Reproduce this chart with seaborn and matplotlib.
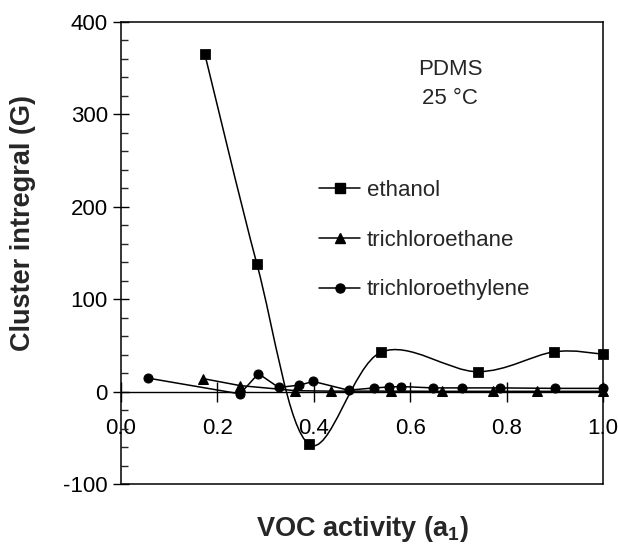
import numpy as np
import pandas as pd
import matplotlib
matplotlib.use("Agg")
import matplotlib.pyplot as plt
import seaborn as sns
from matplotlib.path import Path
from matplotlib.patches import PathPatch
from matplotlib.lines import Line2D
from matplotlib.ticker import MultipleLocator, FixedLocator, FixedFormatter

# ---------------- data ----------------
series_names = ["ethanol", "trichloroethane", "trichloroethylene"]

ethanol_a = [0.174, 0.282, 0.390, 0.539, 0.740, 0.898, 1.0]
ethanol_G = [365, 138, -57, 42.5, 21.5, 43, 40.5]

tcethane_a = [0.171, 0.247, 0.362, 0.435, 0.561, 0.665, 0.772, 0.863, 1.0]
tcethane_G = [14, 6.5, 1, 0.5, 0.5, 0.3, 0.3, 0.3, 0.3]

tcethylene_a = [0.057, 0.247, 0.285, 0.327, 0.370, 0.399, 0.472, 0.525,
                0.557, 0.580, 0.647, 0.708, 0.786, 0.900, 1.0]
tcethylene_G = [14.5, -2.5, 19.5, 4.5, 7, 11, 1.5, 4, 5, 5.5, 4, 4, 4, 3.5, 3.5]

x_ticks = [0.0, 0.2, 0.4, 0.6, 0.8, 1.0]
x_tick_labels = ["0.0", "0.2", "0.4", "0.6", "0.8", "1.0"]
y_ticks = [-100, 0, 100, 200, 300, 400]
y_tick_labels = ["-100", "0", "100", "200", "300", "400"]

annotation = "PDMS\n25 °C"
x_label = r"VOC activity (a$_{\mathbf{1}}$)"
y_label = "Cluster intregral (G)"

# ---------------- style ----------------
sns.set_style("white")
plt.rcParams["font.family"] = ["Liberation Sans", "DejaVu Sans"]
plt.rcParams["mathtext.fontset"] = "custom"
plt.rcParams["mathtext.rm"] = "Liberation Sans"
plt.rcParams["mathtext.bf"] = "Liberation Sans:bold"

fs = 16
lab_fs = 19.5

fig = plt.figure(figsize=(6.18, 5.46), dpi=100)
ax = fig.add_axes([121 / 618, 1 - 484 / 546, (603 - 121) / 618, (484 - 22) / 546])

df_eth = pd.DataFrame({"a": ethanol_a, "G": ethanol_G})
df_tca = pd.DataFrame({"a": tcethane_a, "G": tcethane_G})
df_tce = pd.DataFrame({"a": tcethylene_a, "G": tcethylene_G})

lw = 1.1
ms = 6.5

# trichloroethane & trichloroethylene: straight segments with markers
sns.lineplot(data=df_tca, x="a", y="G", ax=ax, color="black", lw=lw,
             marker="^", markersize=ms, markeredgecolor="black", clip_on=False, zorder=3)
sns.lineplot(data=df_tce, x="a", y="G", ax=ax, color="black", lw=lw,
             marker="o", markersize=ms, markeredgecolor="black", clip_on=False, zorder=3)

# ethanol: smoothed curve (Catmull-Rom as Bezier path through the data points) + square markers
P = np.column_stack([ethanol_a, ethanol_G]).astype(float)
n = len(P)
verts = [P[0]]
codes = [Path.MOVETO]
for i in range(n - 1):
    p0 = P[i - 1] if i > 0 else P[i]
    p1, p2 = P[i], P[i + 1]
    p3 = P[i + 2] if i + 2 < n else P[i + 1]
    verts += [p1 + (p2 - p0) / 6.0, p2 - (p3 - p1) / 6.0, p2]
    codes += [Path.CURVE4] * 3
ax.add_patch(PathPatch(Path(verts, codes), facecolor="none", edgecolor="black",
                       lw=lw, zorder=3, clip_on=False))
sns.scatterplot(data=df_eth, x="a", y="G", ax=ax, color="black", marker="s",
                s=ms ** 2 * 1.1, edgecolor="black", zorder=4, clip_on=False, legend=False)

ax.set_xlim(0, 1.0)
ax.set_ylim(-100, 400)

# spines: box frame + x-axis through zero
for s in ["left", "right", "top"]:
    ax.spines[s].set_visible(True)
    ax.spines[s].set_color("black")
    ax.spines[s].set_linewidth(1.1)
ax.spines["bottom"].set_position(("data", 0))
ax.spines["bottom"].set_color("black")
ax.spines["bottom"].set_linewidth(1.0)
ax.plot([0, 1], [0, 0], transform=ax.transAxes, color="black", lw=1.1, clip_on=False)

ax.xaxis.set_major_locator(FixedLocator(x_ticks))
ax.xaxis.set_major_formatter(FixedFormatter(x_tick_labels))
ax.yaxis.set_major_locator(FixedLocator(y_ticks))
ax.yaxis.set_major_formatter(FixedFormatter(y_tick_labels))
ax.yaxis.set_minor_locator(MultipleLocator(20))

ax.tick_params(axis="x", which="major", direction="inout", length=14, width=1,
               bottom=True, top=False, labelsize=fs, pad=12, colors="black")
ax.tick_params(axis="y", which="major", direction="inout", length=11, width=1,
               left=True, right=False, labelsize=fs, pad=4, colors="black")
ax.tick_params(axis="y", which="minor", direction="in", length=5, width=1,
               left=True, right=False)

ax.set_xlabel(x_label, fontsize=lab_fs, fontweight="bold")
ax.set_ylabel(y_label, fontsize=lab_fs, fontweight="bold")
ax.xaxis.set_label_coords(0.5, -0.066)
ax.yaxis.set_label_coords(-0.177, 0.565)

ax.text(0.683, 333, annotation, ha="center", va="center", fontsize=fs, linespacing=1.45)

handles = [
    Line2D([], [], color="black", lw=lw, marker="s", markersize=ms),
    Line2D([], [], color="black", lw=lw, marker="^", markersize=ms),
    Line2D([], [], color="black", lw=lw, marker="o", markersize=ms),
]
ax.legend(handles, series_names, loc="upper left", frameon=False, fontsize=fs,
          bbox_to_anchor=(319 / 618, 1 - 180 / 546), bbox_transform=fig.transFigure,
          borderpad=0, borderaxespad=0, handlelength=1.85, handletextpad=0.3,
          labelspacing=1.29)

fig.savefig("out.png", dpi=100, facecolor="white")
